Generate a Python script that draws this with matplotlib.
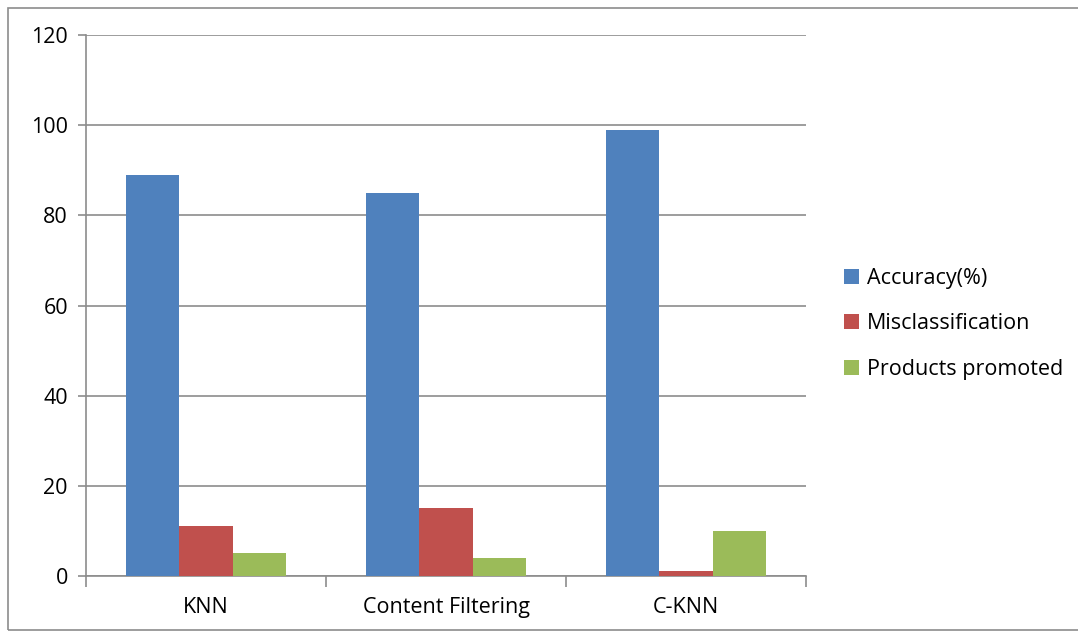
import numpy as np
import matplotlib.pyplot as plt
from matplotlib.patches import Rectangle

categorias = ['KNN', 'Content Filtering', 'C-KNN']
series = ['Accuracy(%)', 'Misclassification', 'Products promoted']
accuracy = [89, 85, 99]
misclasif = [11, 15, 1]
promovidos = [5, 4, 10]
colores = ['#4f81bd', '#c0504d', '#9bbb59']

plt.rcParams['font.family'] = ['Open Sans', 'DejaVu Sans']

fig = plt.figure(figsize=(10.78, 6.37), dpi=100)
ax = fig.add_axes([0.0798, 0.0958, 0.668, 0.849])

# marco exterior
fig.patches.append(Rectangle((0.0075, 0.011), 1.2, 0.977, transform=fig.transFigure,
                             fill=False, edgecolor='#8c8c8c', linewidth=1.2))

x = np.arange(len(categorias))
ancho = 0.222
for i, (vals, nombre) in enumerate(zip([accuracy, misclasif, promovidos], series)):
    ax.bar(x + (i - 1) * ancho, vals, ancho, color=colores[i], label=nombre, zorder=3)

ax.set_xlim(-0.5, 2.5)
ax.set_ylim(0, 120)
ax.set_yticks(np.arange(0, 121, 20))
ax.grid(axis='y', color='#8c8c8c', linewidth=1.2, zorder=0)

ax.set_xticks(x)
ax.set_xticklabels(categorias, fontsize=15.5)
ax.tick_params(axis='x', length=0, pad=15)
ax.set_xticks([-0.5, 0.5, 1.5, 2.5], minor=True)
ax.tick_params(axis='x', which='minor', length=8, color='#8c8c8c', width=1.2)
ax.tick_params(axis='y', labelsize=15.5, length=6, color='#8c8c8c', width=1.2, pad=7)

for lado in ['top', 'right']:
    ax.spines[lado].set_visible(False)
for lado in ['left', 'bottom']:
    ax.spines[lado].set_color('#8c8c8c')
    ax.spines[lado].set_linewidth(1.2)

ax.legend(loc='center left', bbox_to_anchor=(1.04, 0.466), frameon=False, fontsize=15.5,
          handlelength=0.7, handleheight=0.7, handletextpad=0.4, labelspacing=1.15,
          borderaxespad=0)

plt.savefig('out.png')
